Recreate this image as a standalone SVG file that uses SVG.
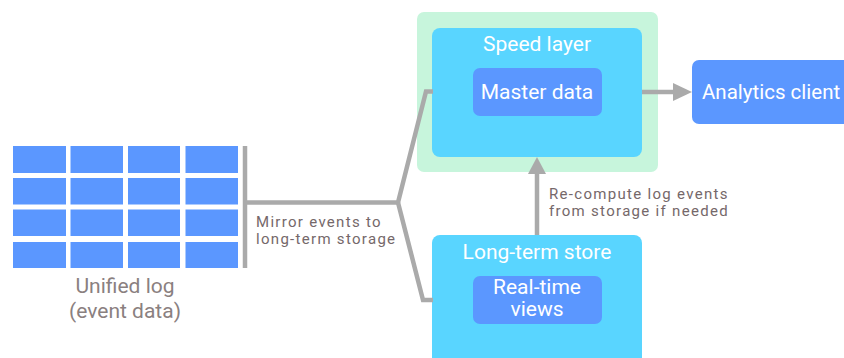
<svg xmlns="http://www.w3.org/2000/svg" width="844" height="358" viewBox="0 0 844 358">
<defs>
<style>
.cell{fill:#5b97ff}
.line{fill:none;stroke:#aaaaaa;stroke-width:4.5}
.head{fill:#aaaaaa}
.outer{fill:#59d5ff}
.inner{fill:#5b97ff}
.wt{font-family:Roboto,"Open Sans",sans-serif;font-size:21px;fill:#ffffff;text-anchor:middle}
.lbl{font-family:Roboto,"Open Sans",sans-serif;font-size:15px;letter-spacing:1.3px;fill:#75686a}
.cap{font-family:Roboto,"Open Sans",sans-serif;font-size:21px;fill:#8a8080;text-anchor:middle}
</style>
</defs>
<rect width="844" height="358" fill="#ffffff"/>
<g id="unified-log">
<rect class="cell" x="13" y="146" width="53" height="27"/>
<rect class="cell" x="70.5" y="146" width="52.5" height="27"/>
<rect class="cell" x="128" y="146" width="52" height="27"/>
<rect class="cell" x="185.5" y="146" width="52.5" height="27"/>
<rect class="cell" x="13" y="178" width="53" height="26.5"/>
<rect class="cell" x="70.5" y="178" width="52.5" height="26.5"/>
<rect class="cell" x="128" y="178" width="52" height="26.5"/>
<rect class="cell" x="185.5" y="178" width="52.5" height="26.5"/>
<rect class="cell" x="13" y="209.5" width="53" height="26.5"/>
<rect class="cell" x="70.5" y="209.5" width="52.5" height="26.5"/>
<rect class="cell" x="128" y="209.5" width="52" height="26.5"/>
<rect class="cell" x="185.5" y="209.5" width="52.5" height="26.5"/>
<rect class="cell" x="13" y="242" width="53" height="26"/>
<rect class="cell" x="70.5" y="242" width="52.5" height="26"/>
<rect class="cell" x="128" y="242" width="52" height="26"/>
<rect class="cell" x="185.5" y="242" width="52.5" height="26"/>
<text class="cap" x="125" y="293">Unified log</text>
<text class="cap" x="125" y="318">(event data)</text>
</g>
<g id="speed-layer">
<rect x="417" y="12" width="241" height="160" rx="7" fill="#c7f5dc"/>
<rect class="outer" x="432" y="28" width="210" height="129" rx="8"/>
<text class="wt" x="537" y="51">Speed layer</text>
</g>
<g id="master-data">
<rect class="inner" x="473" y="68" width="129" height="48" rx="7"/>
<text class="wt" x="537" y="99">Master data</text>
</g>
<g id="analytics-client">
<rect class="inner" x="692" y="60" width="170" height="64" rx="7"/>
<text class="wt" x="702" y="99" style="text-anchor:start;font-size:20.5px">Analytics client</text>
</g>
<g id="long-term-store">
<rect class="outer" x="432" y="235" width="210" height="140" rx="8"/>
<text class="wt" x="537" y="259">Long-term store</text>
</g>
<g id="real-time-views">
<rect class="inner" x="473" y="276" width="129" height="48" rx="7"/>
<text class="wt" x="537" y="294">Real-time</text>
<text class="wt" x="537" y="316">views</text>
</g>
<g id="connectors">
<line class="line" x1="245" y1="146" x2="245" y2="268"/>
<polyline class="line" points="245,202.5 398,202.5 426,91.5 433,91.5"/>
<polyline class="line" points="398,202.5 423,300 433,300"/>
<line class="line" x1="642" y1="92" x2="675" y2="92"/>
<polygon class="head" points="673,83 692,92 673,101"/>
<line class="line" x1="537" y1="235" x2="537" y2="172"/>
<polygon class="head" points="528,174 537,157 546,174"/>
<text class="lbl" x="256" y="227">Mirror events to</text>
<text class="lbl" x="256" y="243.5">long-term storage</text>
<text class="lbl" x="549" y="199">Re-compute log events</text>
<text class="lbl" x="549" y="215.5">from storage if needed</text>
</g>
</svg>
